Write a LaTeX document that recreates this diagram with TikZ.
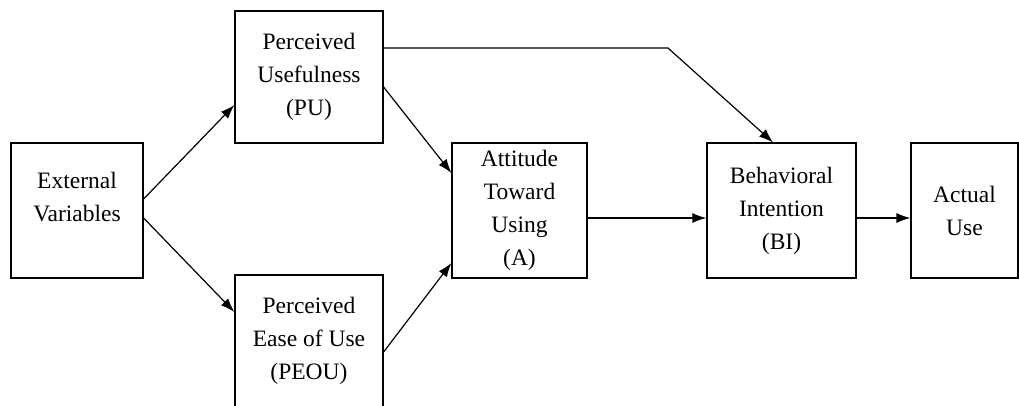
\documentclass[tikz,border=0pt]{standalone}
\usepackage{fontspec}
\setmainfont{Liberation Serif}
\usetikzlibrary{arrows.meta}
\begin{document}
\begin{tikzpicture}
[x=1pt,y=-1pt,line width=1.2pt,>={Latex[length=14pt,width=10pt]},
every node/.style={rectangle,draw=black,fill=white,inner sep=0pt,align=center,
font=\fontsize{23.5}{33}\selectfont}]
\useasboundingbox (0,0) rectangle (1019,405);
\node[minimum width=132pt,minimum height=135pt] (ext) at (77,210.5) {External\\Variables\\[-6pt]};
\node[minimum width=148pt,minimum height=132pt] (pu) at (309,77) {Perceived\\Usefulness\\(PU)};
\node[minimum width=148pt,minimum height=132pt] (peou) at (309,341) {Perceived\\Ease of Use\\(PEOU)};
\node[minimum width=135pt,minimum height=135pt] (att) at (519.5,210.5) {Attitude\\Toward\\Using\\(A)};
\node[minimum width=149pt,minimum height=135pt] (bi) at (781.5,210.5) {Behavioral\\Intention\\(BI)};
\node[minimum width=107pt,minimum height=135pt] (act) at (964.5,210.5) {Actual\\Use};
\coordinate (bend) at (668,48);
%\node (bend) at (668,48) {};
\draw [->] ([yshift=11.5pt]ext.east) to ([yshift=-28pt]pu.west);
\draw [->] ([yshift=-7.5pt]ext.east) to ([yshift=29pt]peou.west);
\draw [->] ([yshift=-10pt]pu.east) to ([yshift=37.5pt]att.west);
\draw [->] ([yshift=-11pt]peou.east) to ([yshift=-52.5pt]att.west);
\draw [->] ([yshift=29pt]pu.east) to (bend) to ([xshift=-8.5pt]bi.north);
\draw [->] ([yshift=-7.5pt]att.east) to ([yshift=-7.5pt]bi.west);
\draw [->] ([yshift=-7.5pt]bi.east) to ([yshift=-7.5pt]act.west);
\end{tikzpicture}
\end{document}
